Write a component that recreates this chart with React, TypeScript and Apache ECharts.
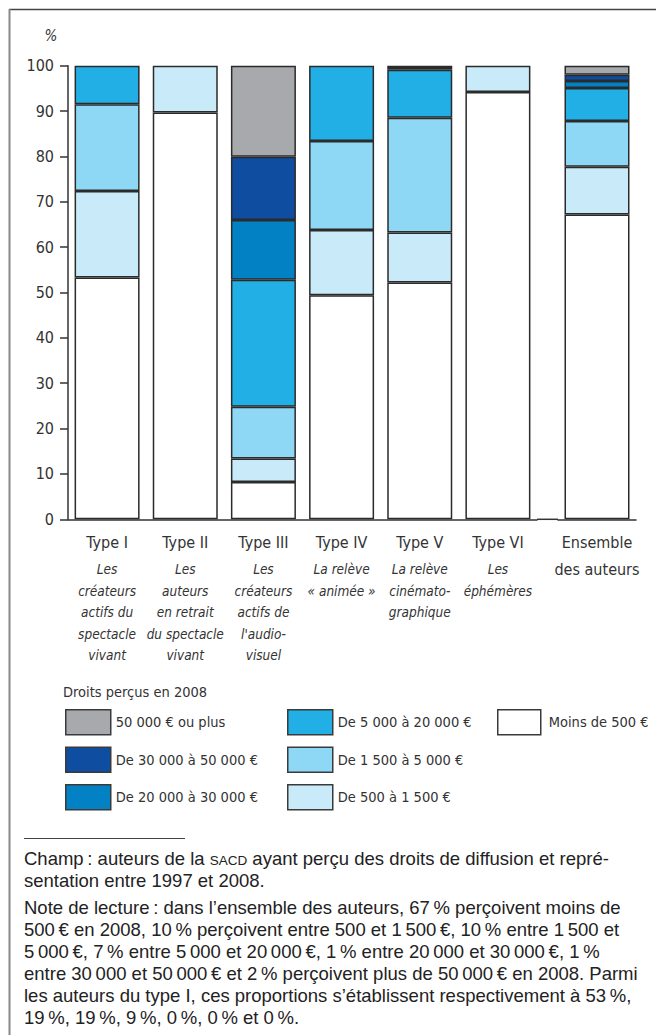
import React, { useEffect, useRef } from 'react';
import * as echarts from 'echarts';

// ---- Data ----
const categories = ['Type I', 'Type II', 'Type III', 'Type IV', 'Type V', 'Type VI', 'Ensemble des auteurs'];
const headLines = [['Type I'], ['Type II'], ['Type III'], ['Type IV'], ['Type V'], ['Type VI'], ['Ensemble', 'des auteurs']];
const subtitles = [
  ['Les', 'créateurs', 'actifs du', 'spectacle', 'vivant'],
  ['Les', 'auteurs', 'en retrait', 'du spectacle', 'vivant'],
  ['Les', 'créateurs', 'actifs de', "l'audio-", 'visuel'],
  ['La relève', '« animée »'],
  ['La relève', 'cinémato-', 'graphique'],
  ['Les', 'éphémères'],
  [],
];

const seriesNames = [
  'Moins de 500 €',
  'De 500 à 1 500 €',
  'De 1 500 à 5 000 €',
  'De 5 000 à 20 000 €',
  'De 20 000 à 30 000 €',
  'De 30 000 à 50 000 €',
  '50 000 € ou plus',
];
const moins500 = [53.3, 89.7, 8.2, 49.4, 52.2, 94.2, 67.2];
const de500a1500 = [19.1, 10.3, 5.2, 14.4, 11.0, 5.8, 10.5];
const de1500a5000 = [19.1, null, 11.4, 19.6, 25.3, null, 10.1];
const de5000a20000 = [8.5, null, 28.0, 16.6, 10.6, null, 7.3];
const de20000a30000 = [null, null, 13.2, null, 0.4, null, 1.5];
const de30000a50000 = [null, null, 13.9, null, 0.5, null, 1.4];
const plus50000 = [null, null, 20.1, null, null, null, 2.0];
const seriesValues = [moins500, de500a1500, de1500a5000, de5000a20000, de20000a30000, de30000a50000, plus50000];

const yTicks = { min: 0, max: 100, interval: 10 };

const legendTitle = 'Droits perçus en 2008';
const legendCol1 = ['50 000 € ou plus', 'De 30 000 à 50 000 €', 'De 20 000 à 30 000 €'];
const legendCol2 = ['De 5 000 à 20 000 €', 'De 1 500 à 5 000 €', 'De 500 à 1 500 €'];
const legendCol3 = ['Moins de 500 €'];

const noteLines = [
  'Champ\u202F: auteurs de la SACD ayant perçu des droits de diffusion et repré-',
  'sentation entre 1997 et 2008.',
  'Note de lecture\u202F: dans l’ensemble des auteurs, 67\u202F% perçoivent moins de',
  '500\u202F€ en 2008, 10\u202F% perçoivent entre 500 et 1\u202F500\u202F€, 10\u202F% entre 1\u202F500 et',
  '5\u202F000\u202F€, 7\u202F% entre 5\u202F000 et 20\u202F000\u202F€, 1\u202F% entre 20\u202F000 et 30\u202F000\u202F€, 1\u202F%',
  'entre 30\u202F000 et 50\u202F000\u202F€ et 2\u202F% perçoivent plus de 50\u202F000\u202F€ en 2008. Parmi',
  'les auteurs du type I, ces proportions s’établissent respectivement à 53\u202F%,',
  '19\u202F%, 19\u202F%, 9\u202F%, 0\u202F%, 0\u202F% et 0\u202F%.',
];

// ---- Styles ----
const colors = ['#FFFFFF', '#C8EAF9', '#8ED8F6', '#21AFE6', '#0282C5', '#0E4DA0', '#A7A9AC'];
const NARROW = "'Liberation Sans Narrow', 'Arial Narrow', 'DejaVu Sans Condensed', sans-serif";
const SANS = "'Liberation Sans', Arial, Helvetica, sans-serif";
const INK = '#333333';
const BORDER = '#2b2b2b';

export default function App() {
  const ref = useRef<HTMLDivElement>(null);

  useEffect(() => {
    if (!ref.current) return;
    const chart = echarts.init(ref.current, undefined, { renderer: 'svg' });

    const nMain = 6;
    const labelFormatter = (idxOffset: number) => (_v: string, i: number) => {
      const k = i + idxOffset;
      const head = headLines[k];
      const parts: string[] = [];
      parts.push(`{t|${head[0]}}`);
      for (let j = 1; j < head.length; j++) parts.push(`{u|${head[j]}}`);
      for (const s of subtitles[k]) parts.push(`{i|${s}}`);
      return parts.join('\n');
    };
    const rich = {
      t: { fontFamily: NARROW, fontSize: 16, lineHeight: 32, color: INK, align: 'center' },
      u: { fontFamily: NARROW, fontSize: 16, lineHeight: 21.5, color: INK, align: 'center' },
      i: { fontFamily: NARROW, fontSize: 13.5, fontStyle: 'italic', lineHeight: 21.5, color: INK, align: 'center' },
    };

    const axisLineStyle = { color: INK, width: 1.5 };

    const series: any[] = [];
    seriesNames.forEach((name, k) => {
      const base = {
        type: 'bar',
        name,
        barWidth: 65,
        itemStyle: { color: colors[k], borderColor: BORDER, borderWidth: 1.5 },
        emphasis: { disabled: true },
      };
      series.push({ ...base, stack: 'g1', xAxisIndex: 0, yAxisIndex: 0, data: seriesValues[k].slice(0, nMain) });
      series.push({ ...base, stack: 'g2', xAxisIndex: 1, yAxisIndex: 1, data: seriesValues[k].slice(nMain) });
    });

    const legendBase = {
      orient: 'vertical',
      top: 709,
      padding: 0,
      itemWidth: 45,
      itemHeight: 25,
      itemGap: 11,
      icon: 'rect',
      selectedMode: false,
      itemStyle: { borderColor: '#3a3a3a', borderWidth: 1.5 },
      textStyle: { fontFamily: NARROW, fontSize: 14.5, color: INK },
    };

    const graphic: any[] = [
      { type: 'line', shape: { x1: 9, y1: 9.5, x2: 656, y2: 9.5 }, style: { stroke: '#444', lineWidth: 1.5 } },
      { type: 'line', shape: { x1: 9.5, y1: 9, x2: 9.5, y2: 1035 }, style: { stroke: '#888', lineWidth: 2 } },
      { type: 'text', x: 51, y: 36, style: { text: '%', fontFamily: NARROW, fontSize: 15, fontStyle: 'italic', fill: INK, align: 'center', verticalAlign: 'middle' } },
      { type: 'line', shape: { x1: 537, y1: 519.3, x2: 558, y2: 519.3 }, style: { stroke: INK, lineWidth: 1.5 } },
      { type: 'text', x: 63, y: 692, style: { text: legendTitle, fontFamily: NARROW, fontSize: 14.5, fill: INK, verticalAlign: 'middle' } },
      { type: 'line', shape: { x1: 24, y1: 838.5, x2: 185, y2: 838.5 }, style: { stroke: '#444', lineWidth: 1 } },
    ];
    const lineY = [857, 879, 906, 928, 950, 972, 994, 1016];
    const noteRich = {
      n: { fontFamily: SANS, fontSize: 18.5, fill: '#222', verticalAlign: 'bottom', lineHeight: 22 },
      sc: { fontFamily: SANS, fontSize: 13.5, fill: '#222', verticalAlign: 'bottom', lineHeight: 22, padding: [0, 0, 1, 0] },
    };
    noteLines.forEach((t, j) => {
      graphic.push({
        type: 'text',
        x: 24,
        y: lineY[j],
        style: {
          text: `{n|${t.replace('SACD', '}{sc|SACD}{n|')}}`,
          fontFamily: SANS,
          fontSize: 18.5,
          fill: '#222',
          verticalAlign: 'middle',
          rich: noteRich,
        },
      });
    });

    chart.setOption({
      animation: false,
      backgroundColor: '#fff',
      grid: [
        { left: 68, top: 65.7, width: 469, height: 453.6 },
        { left: 558, top: 65.7, width: 78, height: 453.6 },
      ],
      xAxis: [
        {
          type: 'category',
          gridIndex: 0,
          data: categories.slice(0, nMain),
          axisLine: { lineStyle: axisLineStyle },
          axisTick: { length: 8, lineStyle: axisLineStyle },
          axisLabel: { interval: 0, margin: 7, formatter: labelFormatter(0), rich },
        },
        {
          type: 'category',
          gridIndex: 1,
          data: categories.slice(nMain),
          axisLine: { lineStyle: axisLineStyle },
          axisTick: { length: 8, lineStyle: axisLineStyle },
          axisLabel: { interval: 0, margin: 7, formatter: labelFormatter(nMain), rich },
        },
      ],
      yAxis: [
        {
          type: 'value',
          gridIndex: 0,
          min: yTicks.min,
          max: yTicks.max,
          interval: yTicks.interval,
          axisLine: { show: true, lineStyle: axisLineStyle },
          axisTick: { show: true, length: 8, lineStyle: axisLineStyle },
          splitLine: { show: false },
          axisLabel: { fontFamily: NARROW, fontSize: 16, color: INK, margin: 14 },
        },
        { type: 'value', gridIndex: 1, min: yTicks.min, max: yTicks.max, show: false, splitLine: { show: false } },
      ],
      legend: [
        { ...legendBase, left: 65, data: legendCol1 },
        { ...legendBase, left: 287, data: legendCol2 },
        { ...legendBase, left: 497, itemWidth: 43, data: legendCol3, textStyle: { ...legendBase.textStyle, padding: [0, 0, 0, 3] } },
      ],
      graphic,
      series,
    });

    return () => chart.dispose();
  }, []);

  return <div ref={ref} style={{ position: 'absolute', left: 0, top: 0, width: 656, height: 1035 }} />;
}
